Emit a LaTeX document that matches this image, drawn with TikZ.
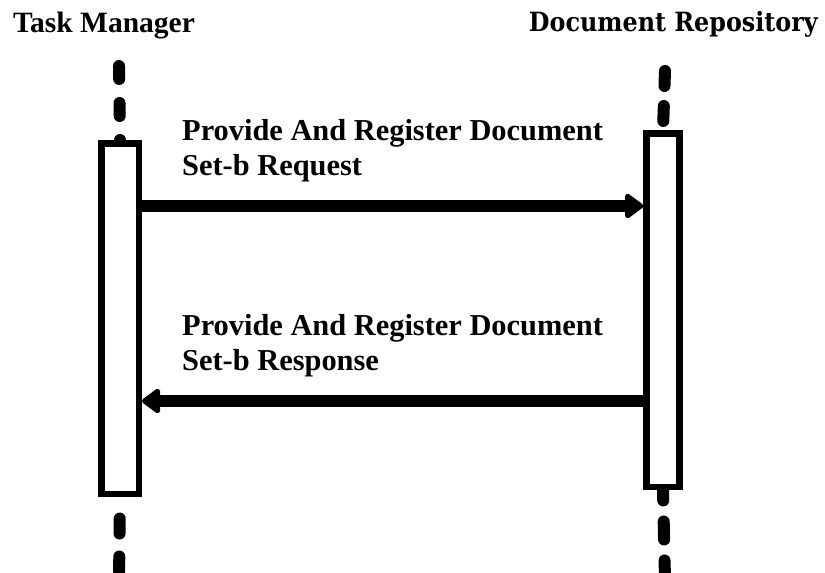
\documentclass[tikz,border=0pt]{standalone}
\usepackage{fontspec}
\setmainfont{Liberation Serif}
\newfontfamily\titlefont{DejaVu Serif Condensed}
\usetikzlibrary{arrows.meta,backgrounds}
\begin{document}
\begin{tikzpicture}[x=1pt,y=-1pt,
  actbox/.style={draw=black, line width=6.5pt, fill=white, rectangle, inner sep=0pt},
  lifeline/.style={line width=12pt, line cap=round},
  msg/.style={line width=12.5pt, -{Triangle[length=20pt,width=28pt,round]}},
  lbl/.style={font=\fontsize{30.4}{35}\selectfont\bfseries, anchor=base west, inner sep=0pt},
]
\useasboundingbox (0,0) rectangle (825,573);
% titles
\node[font=\fontsize{29.5}{32}\selectfont\bfseries, anchor=base west, inner sep=0pt] (tmtitle) at (13,32) {Task Manager};
\node[font=\titlefont\fontsize{26.5}{30}\selectfont\bfseries, anchor=base east, inner sep=0pt] (drtitle) at (818,31) {Document Repository};
% activation boxes
\node[actbox, minimum width=37.5pt, minimum height=350.5pt] (tmbox) at (120,318.5) {};
\node[actbox, minimum width=33pt, minimum height=353.5pt] (drbox) at (663,310) {};
% lifeline ends
\coordinate (tmtop) at (119,66);
\coordinate (tmbot) at (119,580);
\coordinate (drtop) at (665,71);
\coordinate (drbot) at (665,580);
\begin{pgfonlayer}{background}
\draw[lifeline, dash pattern=on 13pt off 24pt] (tmtop) -- (tmbox.north);
\draw[lifeline, dash pattern=on 15pt off 23pt, dash phase=16.5pt] (tmbox.south) -- (tmbot);
\draw[lifeline, dash pattern=on 15pt off 20pt] (drtop) -- (drbox.north);
\draw[lifeline, dash pattern=on 18pt off 21pt, dash phase=7.5pt] (drbox.south) -- (drbot);
\end{pgfonlayer}
% messages
\draw[msg] (tmbox.east |- 0,206) -- (drbox.west |- 0,206);
\draw[msg] (drbox.west |- 0,401) -- (tmbox.east |- 0,401);
% labels
\node[lbl] (req1) at (182,140) {Provide And Register Document};
\node[lbl] (req2) at (182,175) {Set-b Request};
\node[lbl] (res1) at (182,335) {Provide And Register Document};
\node[lbl] (res2) at (182,370) {Set-b Response};
\end{tikzpicture}
\end{document}
